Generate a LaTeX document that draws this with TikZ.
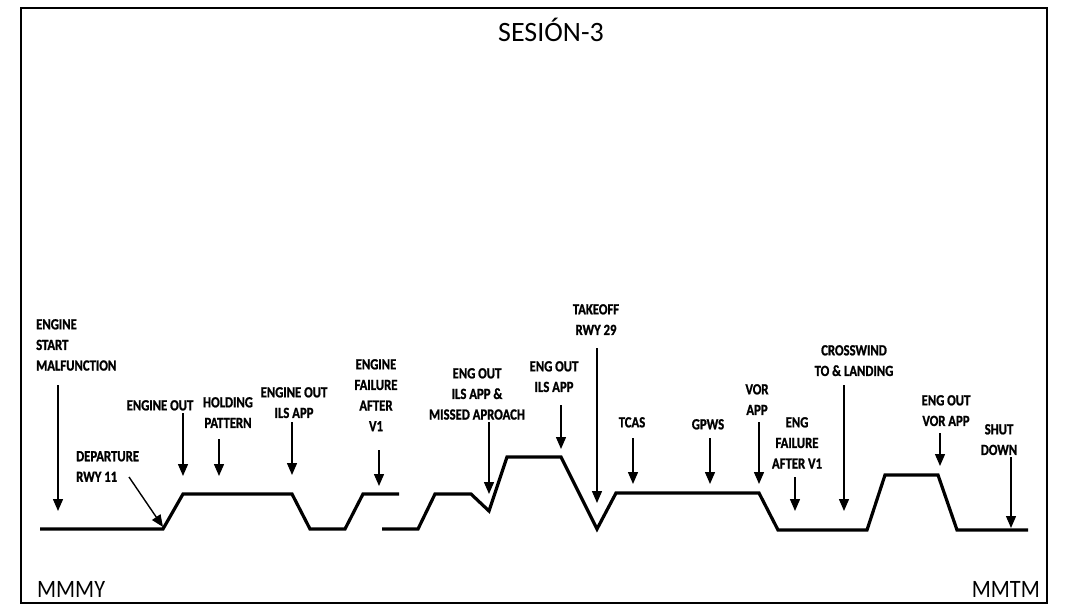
\documentclass[tikz,border=0pt]{standalone}
\usepackage{fontspec}
\setmainfont{Carlito}
\newfontfamily\lblfont[FakeStretch=0.82,FakeBold=1.2]{Carlito}
\newfontfamily\cornerfont[FakeStretch=0.89]{Carlito}
\usetikzlibrary{arrows.meta}
\tikzset{
  lbl/.style={inner sep=0pt, align=center, font=\lblfont\bfseries\fontsize{15.5}{20.6}\selectfont},
  arr/.style={line width=1.4pt, -{Triangle[width=10pt,length=12pt]}},
  prof/.style={line width=3.2pt, line join=miter},
  big/.style={inner sep=0pt, font=\fontsize{28}{32}\selectfont},
  corner/.style={inner sep=0pt, font=\cornerfont\fontsize{25}{30}\selectfont}
}
\begin{document}
\begin{tikzpicture}[x=1pt,y=-1pt]
\useasboundingbox (0,0) rectangle (1084,610);
\draw[line width=2.4pt] (21,8) rectangle (1047,603);
\node[big,anchor=base] (title) at (551,42) {SESIÓN-3};
\node[corner,anchor=base west] (mmmy) at (37,597) {MMMY};
\node[corner,anchor=base east] (mmtm) at (1040,597) {MMTM};

% profile
\draw[prof] (40,529) -- (163,529) -- (183,494) -- (292,494) -- (310,529) -- (345,529) -- (363,494) -- (399,494);
\draw[prof] (382,529) -- (418,529) -- (435,494) -- (471,494) -- (489,511) -- (507,457) -- (561,457) -- (597,529) -- (616,493) -- (759,493) -- (778,530) -- (867,530) -- (885,475) -- (938,475) -- (957,530) -- (1028,530);

% labels
\node[lbl,anchor=north west,align=left] (l1) at (36,319) {ENGINE\\START\\MALFUNCTION};
\node[lbl,anchor=north west,align=left] (l2) at (76,451) {DEPARTURE\\RWY 11};
\node[lbl,anchor=north] (l3) at (160,400) {ENGINE OUT};
\node[lbl,anchor=north] (l4) at (228,397) {HOLDING\\PATTERN};
\node[lbl,anchor=north] (l5) at (294,387) {ENGINE OUT\\ILS APP};
\node[lbl,anchor=north] (l6) at (376,359) {ENGINE\\FAILURE\\AFTER\\V1};
\node[lbl,anchor=north] (l7) at (477,368) {ENG OUT\\ILS APP \&\\MISSED APROACH};
\node[lbl,anchor=north] (l8) at (554,361) {ENG OUT\\ILS APP};
\node[lbl,anchor=north] (l9) at (596,304) {TAKEOFF\\RWY 29};
\node[lbl,anchor=north] (l10) at (632,417) {TCAS};
\node[lbl,anchor=north] (l11) at (708,419) {GPWS};
\node[lbl,anchor=north] (l12) at (757,384) {VOR\\APP};
\node[lbl,anchor=north] (l13) at (797,417) {ENG\\FAILURE\\AFTER V1};
\node[lbl,anchor=north] (l14) at (854,345) {CROSSWIND\\TO \& LANDING};
\node[lbl,anchor=north] (l15) at (946,395) {ENG OUT\\VOR APP};
\node[lbl,anchor=north] (l16) at (999,424) {SHUT\\DOWN};

% arrow coordinates
\coordinate (a1s) at (58,385);   \coordinate (a1e) at (58,511);
\coordinate (a2s) at (129,477);  \coordinate (a2e) at (163,527);
\coordinate (a3s) at (183,413);  \coordinate (a3e) at (183,476);
\coordinate (a4s) at (219,439);  \coordinate (a4e) at (219,476);
\coordinate (a5s) at (292,422);  \coordinate (a5e) at (292,475);
\coordinate (a6s) at (379,450);  \coordinate (a6e) at (379,486);
\coordinate (a7s) at (489,422);  \coordinate (a7e) at (489,494);
\coordinate (a8s) at (561,405);  \coordinate (a8e) at (561,449);
\coordinate (a9s) at (597,348);  \coordinate (a9e) at (597,503);
\coordinate (a10s) at (633,438); \coordinate (a10e) at (633,484);
\coordinate (a11s) at (710,438); \coordinate (a11e) at (710,484);
\coordinate (a12s) at (759,422); \coordinate (a12e) at (759,484);
\coordinate (a13s) at (795,477); \coordinate (a13e) at (795,511);
\coordinate (a14s) at (844,385); \coordinate (a14e) at (844,511);
\coordinate (a15s) at (940,433); \coordinate (a15e) at (940,466);
\coordinate (a16s) at (1011,457);\coordinate (a16e) at (1011,528);
\foreach \i in {1,...,16} { \draw[arr] (a\i s) -- (a\i e); }
\end{tikzpicture}
\end{document}
